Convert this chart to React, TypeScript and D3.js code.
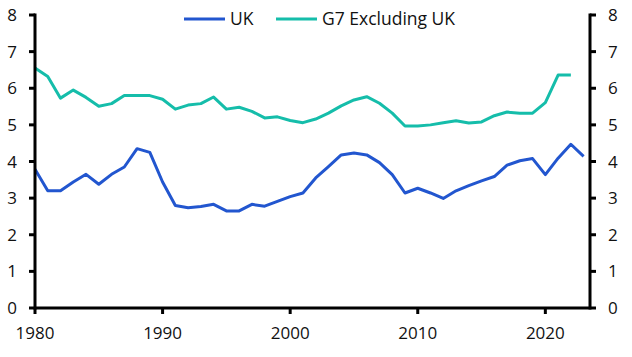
import React from "react";
import * as d3 from "d3";

const years = d3.range(1980, 2024);
const ukValues = [3.79, 3.2, 3.2, 3.44, 3.65, 3.38, 3.65, 3.85, 4.35, 4.25, 3.44, 2.8, 2.74, 2.77, 2.83, 2.65, 2.65, 2.83, 2.78, 2.91, 3.04, 3.14, 3.55, 3.86, 4.18, 4.23, 4.18, 3.97, 3.64, 3.14, 3.27, 3.14, 2.99, 3.2, 3.34, 3.47, 3.59, 3.9, 4.02, 4.08, 3.64, 4.09, 4.47, 4.14];
const g7Values = [6.55, 6.32, 5.73, 5.95, 5.75, 5.51, 5.58, 5.8, 5.8, 5.8, 5.7, 5.43, 5.54, 5.58, 5.76, 5.43, 5.48, 5.37, 5.19, 5.22, 5.12, 5.06, 5.16, 5.32, 5.52, 5.68, 5.77, 5.59, 5.32, 4.97, 4.97, 5.0, 5.06, 5.11, 5.05, 5.08, 5.25, 5.35, 5.32, 5.32, 5.61, 6.36, 6.36];
const yTicks = [0, 1, 2, 3, 4, 5, 6, 7, 8];
const xTicks = [1980, 1990, 2000, 2010, 2020];
const seriesNames = ["UK", "G7 Excluding UK"];

const W = 632, H = 357;
const left = 35, right = 590, top = 15, bottom = 308;
const font = "'Open Sans', sans-serif";
const colors = ["#2256cf", "#15bdaa"];

export default function App() {
  const x = d3.scaleLinear().domain([1980, 2023.5]).range([left, right]);
  const y = d3.scaleLinear().domain([0, 8]).range([bottom, top]);
  const line = d3.line<number>().x((_, i) => x(years[i])).y((d) => y(d));
  const series = [ukValues, g7Values];
  const legendX = [184, 276];
  return (
    <svg width={W} height={H} style={{ position: "absolute", left: 0, top: 0 }} fontFamily={font}>
      {series.map((s, k) => (
        <path key={k} d={line(s) || ""} fill="none" stroke={colors[k]} strokeWidth={3} strokeLinejoin="round" />
      ))}
      <line x1={left} x2={left} y1={top - 1.5} y2={bottom + 1.5} stroke="#000" strokeWidth={3} />
      <line x1={right} x2={right} y1={top - 1.5} y2={bottom + 1.5} stroke="#000" strokeWidth={3} />
      <line x1={left} x2={right} y1={bottom} y2={bottom} stroke="#000" strokeWidth={3} />
      {yTicks.map((t) => (
        <g key={t}>
          <line x1={left - 6} x2={left} y1={y(t)} y2={y(t)} stroke="#000" strokeWidth={3} />
          <line x1={right} x2={right + 6} y1={y(t)} y2={y(t)} stroke="#000" strokeWidth={3} />
          <text x={17} y={y(t)} dy="0.36em" textAnchor="end" fontSize={17} fill="#111">{t}</text>
          <text x={608} y={y(t)} dy="0.36em" textAnchor="start" fontSize={17} fill="#111">{t}</text>
        </g>
      ))}
      {xTicks.map((t) => (
        <g key={t}>
          <line x1={x(t)} x2={x(t)} y1={bottom} y2={bottom + 6} stroke="#000" strokeWidth={3} />
          <text x={x(t)} y={339} textAnchor="middle" fontSize={17} fill="#111">{t}</text>
        </g>
      ))}
      {seriesNames.map((n, k) => (
        <g key={n}>
          <line x1={legendX[k]} x2={legendX[k] + 41} y1={19} y2={19} stroke={colors[k]} strokeWidth={3} />
          <text x={legendX[k] + 46} y={19} dy="0.36em" fontSize={17.5} fill="#111">{n}</text>
        </g>
      ))}
    </svg>
  );
}
